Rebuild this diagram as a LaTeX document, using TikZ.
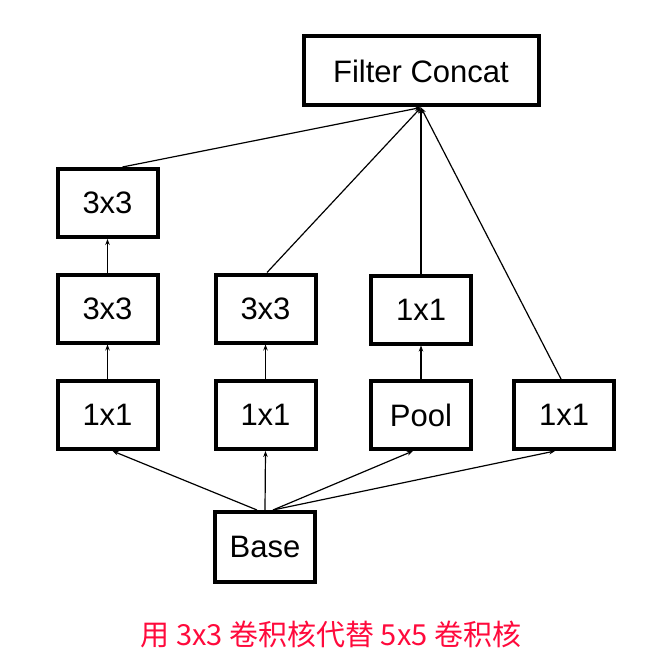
\documentclass[tikz,border=0pt]{standalone}
\usepackage{fontspec}
\setmainfont{Liberation Sans}
\newfontfamily\cjk{Noto Sans CJK SC}
\usetikzlibrary{arrows.meta,calc}
\definecolor{capred}{RGB}{255,10,60}
\tikzset{
  box/.style={draw=black, line width=4pt, minimum width=100pt, minimum height=68pt,
    inner sep=0pt, font=\fontsize{31}{36}\selectfont},
  conn/.style={line width=1.2pt, -{Stealth[length=6pt,width=4.5pt]}},
}
\begin{document}
\begin{tikzpicture}[x=1pt,y=-1pt]
\useasboundingbox (0,0) rectangle (661,666);
\node[box, minimum width=235pt, minimum height=69pt] (fc) at (421,71) {Filter Concat};
\node[box] (a1) at (107.5,203) {3x3};
\node[box] (a2) at (107.5,308.5) {3x3};
\node[box] (a3) at (107.5,415) {1x1};
\node[box] (b2) at (265.5,308.5) {3x3};
\node[box] (b3) at (265.5,415) {1x1};
\node[box] (c2) at (421,309.5) {1x1};
\node[box] (c3) at (421,415) {Pool};
\node[box] (d3) at (564,415) {1x1};
\node[box, minimum height=70pt] (base) at (265,547) {Base};
\node[text=capred, font=\cjk\fontsize{29}{34}\selectfont] (cap) at (331,634) {用 3x3 卷积核代替 5x5 卷积核};
% column internal arrows
\draw[conn] (a2.north) -- (a1.south);
\draw[conn] (a3.north) -- (a2.south);
\draw[conn] (b3.north) -- (b2.south);
\draw[conn] (c3.north) -- (c2.south);
% to filter concat
\draw[conn] ($(a1.north)+(15,0)$) -- (fc.south);
\draw[conn] ($(b2.north)+(1.5,0)$) -- (fc.south);
\draw[conn] (c2.north) -- (fc.south);
\draw[conn] ($(d3.north)+(-3,0)$) -- (fc.south);
% from base
\draw[conn] ($(base.north)+(-8,0)$) -- ($(a3.south)+(5,0)$);
\draw[conn] (base.north) -- (b3.south);
\draw[conn] ($(base.north)+(8,0)$) -- ($(c3.south)+(-8,0)$);
\draw[conn] ($(base.north)+(8,0)$) -- ($(d3.south)+(-9,0)$);
\end{tikzpicture}
\end{document}
